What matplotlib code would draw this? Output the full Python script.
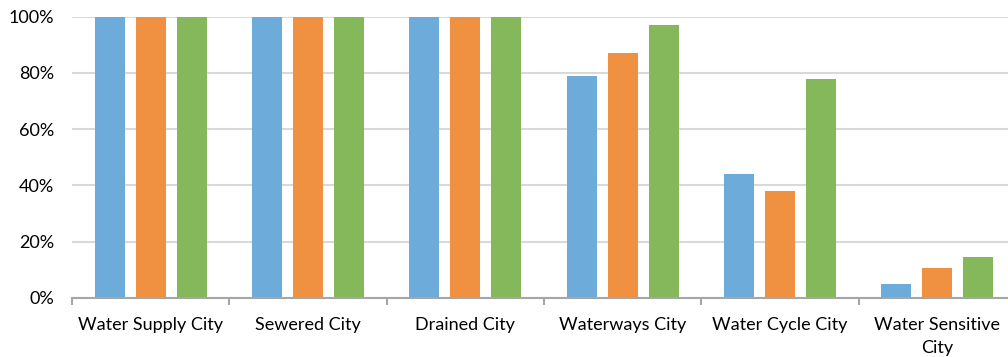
import matplotlib.pyplot as plt
import numpy as np

# categories and three series (percent)
categories = ["Water Supply City", "Sewered City", "Drained City",
              "Waterways City", "Water Cycle City", "Water Sensitive\nCity"]
series_blue = [100, 100, 100, 79, 44, 5]
series_orange = [100, 100, 100, 87, 38, 10.5]
series_green = [100, 100, 100, 97, 78, 14.5]

colors = ["#6DABDB", "#F09142", "#84B85A"]

plt.rcParams['font.family'] = ['Lato', 'DejaVu Sans']

fig = plt.figure(figsize=(10.08, 3.57), dpi=100)
ax = fig.add_axes([72/1008, 59.3/357, 944/1008, 281/357])

x = np.arange(len(categories))
pitch = 0.26
width = 0.19
for i, (vals, c) in enumerate(zip([series_blue, series_orange, series_green], colors)):
    ax.bar(x + (i - 1) * pitch, vals, width, color=c, zorder=3)

ax.set_xlim(-0.5, len(categories) - 0.5)
ax.set_ylim(0, 100)
ax.set_yticks(range(0, 101, 20))
ax.set_yticklabels([f"{v}%" for v in range(0, 101, 20)], fontsize=13)
ax.yaxis.grid(True, color="#D9D9D9", linewidth=1.5, zorder=0)
ax.tick_params(axis='y', length=0, pad=13)

ax.set_xticks(x)
ax.set_xticklabels(categories, fontsize=13, linespacing=1.5)
ax.set_xticks(np.arange(-0.5, len(categories), 1), minor=True)
ax.tick_params(axis='x', which='major', length=0, pad=14)
ax.tick_params(axis='x', which='minor', length=5, color="#A6A6A6", width=1.5)

for s in ["top", "right", "left"]:
    ax.spines[s].set_visible(False)
ax.spines["bottom"].set_color("#A6A6A6")
ax.spines["bottom"].set_linewidth(1.5)
ax.spines["bottom"].set_zorder(4)

fig.savefig("out.png", dpi=100)
